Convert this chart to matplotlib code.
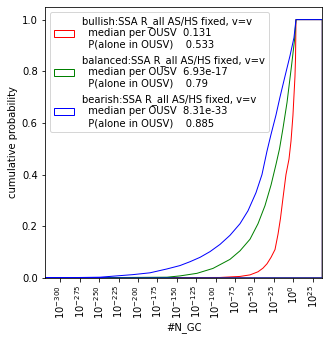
import numpy as np
import matplotlib
matplotlib.use("Agg")
import matplotlib.pyplot as plt
from matplotlib.ticker import FixedLocator, NullLocator

# cumulative distributions of #N_GC, x given as log10 values
bull_logx = [-320, -94.4, -68.6, -55.7, -45.4, -39.0, -33.8, -28.6, -23.5, -19.6, -16.5,
             -13.2, -9.4, -5.5, -2.9, -0.4, 2.2, 2.9, 3.5, 37.4]
bull_cdf = [0, 0.002, 0.006, 0.012, 0.024, 0.038, 0.055, 0.08, 0.11, 0.17, 0.23,
            0.31, 0.40, 0.46, 0.53, 0.63, 0.78, 0.85, 1.0, 1.0]

bal_logx = [-320, -162.6, -145.9, -124.0, -103.4, -81.5, -68.6, -55.7, -45.4, -36.4, -28.6,
            -22.2, -17.7, -13.2, -8.0, -2.3, 1.6, 3.5, 37.4]
bal_cdf = [0, 0.003, 0.008, 0.018, 0.037, 0.072, 0.105, 0.150, 0.21, 0.28, 0.36,
           0.44, 0.50, 0.58, 0.68, 0.82, 0.92, 1.0, 1.0]

bear_logx = [-320, -248.9, -206.4, -184.5, -162.6, -145.9, -132.9, -120.0, -107.2, -94.3,
             -81.5, -68.6, -58.3, -48.0, -40.3, -33.9, -28.7, -22.3, -17.1, -10.7, -4.2,
             0.9, 3.5, 37.4]
bear_cdf = [0, 0.003, 0.013, 0.020, 0.035, 0.048, 0.063, 0.080, 0.102, 0.130,
            0.165, 0.21, 0.26, 0.33, 0.40, 0.49, 0.555, 0.63, 0.70, 0.78, 0.86,
            0.93, 1.0, 1.0]

names = ["bullish", "balanced", "bearish"]
medians = ["0.131", "6.93e-17", "8.31e-33"]
p_alone = ["0.533", "0.79", "0.885"]
colors = ["r", "g", "b"]

fig = plt.figure(figsize=(330 / 72, 341 / 72), dpi=72)
ax = fig.add_axes([0.1355, 0.1848, 0.8412, 0.7956])

series = [(bull_logx, bull_cdf), (bal_logx, bal_cdf), (bear_logx, bear_cdf)]
for (lx, cdf), name, med, pa, c in zip(series, names, medians, p_alone, colors):
    # step-style outline: drop back to zero at the last edge
    xs = 10.0 ** np.append(np.array(lx, dtype=float), lx[-1])
    ys = np.append(np.array(cdf, dtype=float), 0.0)
    label = (f"{name}:SSA R_all AS/HS fixed, v=v\n"
             f"  median per OUSV  {med}\n"
             f"  P(alone in OUSV)    {pa}")
    ax.fill(xs, ys, fill=False, edgecolor=c, linewidth=1, label=label)

ax.set_xscale("log")
ax.set_xlim(10.0 ** -320, 10.0 ** 37.4)
ax.set_ylim(0, 1.05)
ax.xaxis.set_major_locator(FixedLocator(10.0 ** np.arange(-300, 26, 25)))
ax.xaxis.set_minor_locator(NullLocator())
plt.setp(ax.get_xticklabels(), rotation=90)

ax.set_xlabel("#N_GC")
ax.set_ylabel("cumulative probability")
ax.legend(loc="upper left")

fig.savefig("out.png", dpi=72)
